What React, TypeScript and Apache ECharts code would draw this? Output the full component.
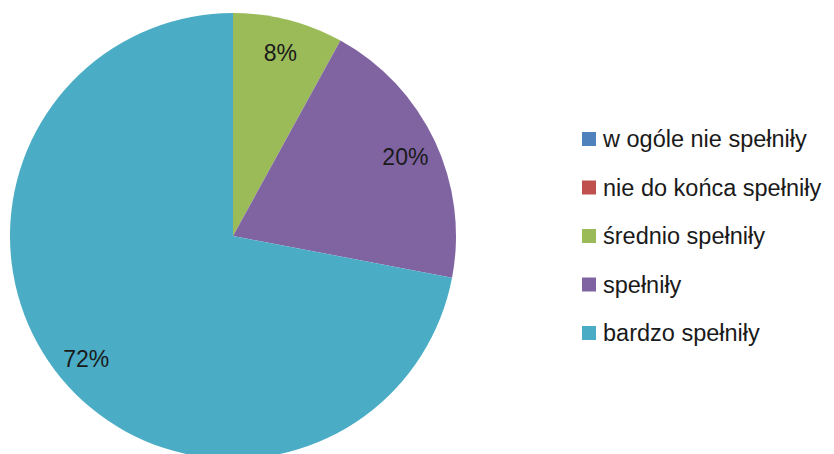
import React, { useEffect, useRef } from "react";
import * as echarts from "echarts";

const categories = [
  "w ogóle nie spełniły",
  "nie do końca spełniły",
  "średnio spełniły",
  "spełniły",
  "bardzo spełniły",
];
const values = [0, 0, 8, 20, 72];
const colors = ["#4F81BD", "#C0504D", "#9BBB59", "#8064A2", "#4BACC6"];

export default function App() {
  const ref = useRef<HTMLDivElement>(null);
  useEffect(() => {
    if (!ref.current) return;
    const chart = echarts.init(ref.current, undefined, { renderer: "svg" });
    const data = categories.map((name, i) => ({
      name,
      value: values[i],
      itemStyle: { color: colors[i] },
    }));
    chart.setOption({
      animation: false,
      backgroundColor: "#ffffff",
      legend: {
        orient: "vertical",
        left: 577,
        top: 122,
        icon: "rect",
        itemWidth: 14,
        itemHeight: 14,
        itemGap: 24.5,
        selectedMode: false,
        textStyle: {
          fontFamily: "Liberation Sans",
          fontSize: 23.5,
          color: "#1a1a1a",
          padding: [0, 0, 0, 2],
        },
        data: categories,
      },
      series: [
        {
          type: "pie",
          center: [233, 236],
          radius: [0, 223],
          startAngle: 90,
          clockwise: true,
          silent: true,
          label: { show: false },
          labelLine: { show: false },
          data,
        },
        {
          type: "pie",
          center: [233, 238],
          radius: [152, 223],
          startAngle: 90,
          clockwise: true,
          silent: true,
          itemStyle: { color: "transparent", borderWidth: 0 },
          labelLine: { show: false },
          label: {
            show: true,
            position: "inside",
            fontFamily: "Liberation Sans",
            fontSize: 23,
            color: "#1a1a1a",
            formatter: (p: any) => (p.value === 0 ? "" : p.percent.toFixed(0) + "%"),
          },
          data: categories.map((name, i) => ({ name, value: values[i] })),
        },
      ],
    });
    return () => chart.dispose();
  }, []);
  return (
    <div
      ref={ref}
      style={{ position: "absolute", left: 0, top: 0, width: 834, height: 454 }}
    />
  );
}
